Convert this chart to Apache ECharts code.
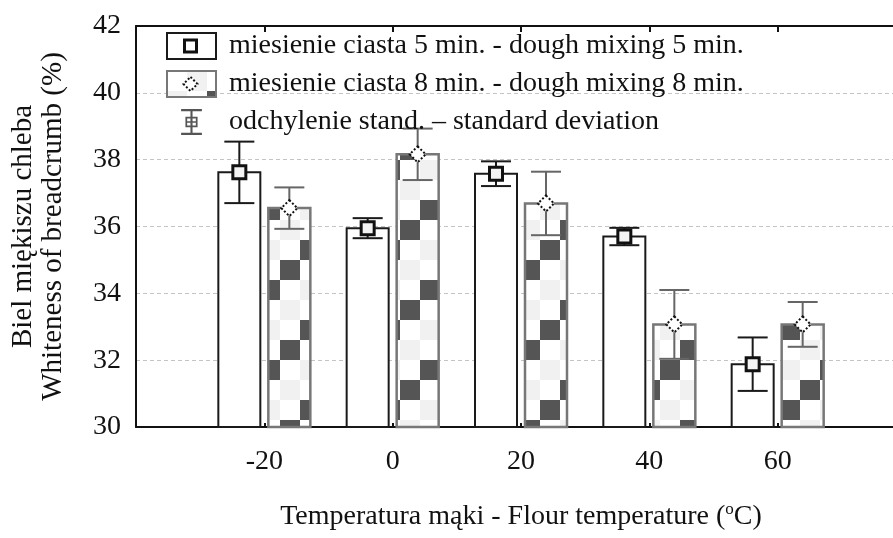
<!DOCTYPE html>
<html>
<head>
<meta charset="utf-8">
<script src="https://cdn.jsdelivr.net/npm/echarts@6/dist/echarts.min.js"></script>
<style>
  html, body { margin: 0; padding: 0; background: #fff; }
  #chart { width: 893px; height: 538px; }
</style>
</head>
<body>
<div id="chart"></div>
<script>
// temperatury maki i wyniki
const temps = [-20, 0, 20, 40, 60];
const mix5 = [37.62, 35.95, 37.58, 35.7, 31.88];
const sd5 = [0.92, 0.3, 0.37, 0.26, 0.8];
const mix8 = [36.55, 38.16, 36.69, 33.07, 33.07];
const sd8 = [0.62, 0.77, 0.95, 1.03, 0.67];

const name5 = 'miesienie ciasta 5 min. - dough mixing 5 min.';
const name8 = 'miesienie ciasta 8 min. - dough mixing 8 min.';
const nameSd = 'odchylenie stand. – standard deviation';

const font = "'Liberation Serif', 'Times New Roman', serif";
const BAR_W = 42;
const OFFSET = 25;

// szachownica dla 8 min
function makePattern() {
  const c = document.createElement('canvas');
  c.width = 80; c.height = 80;
  const ctx = c.getContext('2d');
  ctx.fillStyle = '#fff';
  ctx.fillRect(0, 0, 80, 80);
  for (let r = 0; r < 4; r++) {
    for (let k = 0; k < 4; k++) {
      const d = (r + k) % 4;
      if (d === 3) ctx.fillStyle = '#555';
      else if (d === 1) ctx.fillStyle = '#f1f1f1';
      else continue;
      ctx.fillRect(k * 20, r * 20, 20, 20);
    }
  }
  return c;
}
const pattern = { image: makePattern(), repeat: 'repeat' };

const rows = temps.map((t, i) => [t, mix5[i], sd5[i], mix8[i], sd8[i]]);

function barRenderer(col, offset, stroke, lw, fill) {
  return function (params, api) {
    const x = api.value(0);
    const base = api.coord([x, 30]);
    const top = api.coord([x, api.value(col)]);
    const cx = base[0] + offset;
    return {
      type: 'rect',
      shape: { x: cx - BAR_W / 2, y: top[1], width: BAR_W, height: base[1] - top[1] },
      style: { fill: fill, stroke: stroke, lineWidth: lw }
    };
  };
}

function errRenderer(params, api) {
  const x = api.value(0);
  const children = [];
  const groups = [
    { m: 1, s: 2, off: -OFFSET, color: '#1a1a1a', kind: 'square' },
    { m: 3, s: 4, off: OFFSET, color: '#666', kind: 'diamond' }
  ];
  groups.forEach(g => {
    const mean = api.value(g.m), sd = api.value(g.s);
    const p = api.coord([x, mean]);
    const hi = api.coord([x, mean + sd]);
    const lo = api.coord([x, mean - sd]);
    const cx = p[0] + g.off;
    const ls = { stroke: g.color, lineWidth: 2 };
    children.push({ type: 'line', shape: { x1: cx, y1: hi[1], x2: cx, y2: lo[1] }, style: ls });
    children.push({ type: 'line', shape: { x1: cx - 15, y1: hi[1], x2: cx + 15, y2: hi[1] }, style: ls });
    children.push({ type: 'line', shape: { x1: cx - 15, y1: lo[1], x2: cx + 15, y2: lo[1] }, style: ls });
    if (g.kind === 'square') {
      children.push({
        type: 'rect', shape: { x: cx - 6.5, y: p[1] - 6.5, width: 13, height: 13 },
        style: { fill: '#f3f3f3', stroke: '#111', lineWidth: 3 }
      });
    } else {
      children.push({
        type: 'polygon', shape: { points: [[cx, p[1] - 8], [cx + 8, p[1]], [cx, p[1] + 8], [cx - 8, p[1]]] },
        style: { fill: '#fff', stroke: '#111', lineWidth: 2, lineDash: [2, 2] }
      });
    }
  });
  return { type: 'group', children: children };
}

const chart = echarts.init(document.getElementById('chart'));

const sdIcon = 'path://M3,0h24v2.5h-24Z M3,27.5h24v2.5h-24Z M13.8,0h2.4v30h-2.4Z M8,9h14v12h-14Z M10,11v8h10v-8Z M8,14h14v2h-14Z';

const LEG_TOP = 32;
const LEG_H = 26;
const LEG_GAP = 10;
const ROW_H = 28;

const option = {
  animation: false,
  backgroundColor: '#fff',
  textStyle: { fontFamily: font },
  grid: { left: 136, right: -13, top: 26, bottom: 111, outerBoundsMode: 'none', containLabel: false },
  legend: {
    orient: 'vertical',
    left: 166,
    top: LEG_TOP,
    padding: 0,
    itemWidth: 49,
    itemHeight: LEG_H,
    itemGap: LEG_GAP,
    textStyle: { fontFamily: font, fontSize: 28, color: '#111', padding: [0, 0, 0, 8] },
    data: [
      { name: name5, icon: 'rect', itemStyle: { color: '#fff', borderColor: '#1a1a1a', borderWidth: 2 } },
      { name: name8, icon: 'rect', itemStyle: { color: pattern, borderColor: '#777', borderWidth: 2 } },
      { name: nameSd, icon: sdIcon, itemStyle: { color: '#555', borderWidth: 0 } }
    ]
  },
  xAxis: [
    {
      type: 'value', min: -40, max: 80, interval: 20,
      name: 'Temperatura mąki - Flour temperature ({sup|o}C)',
      nameLocation: 'middle', nameGap: 74,
      nameTextStyle: {
        fontFamily: font, fontSize: 28, color: '#111',
        rich: { sup: { fontFamily: font, fontSize: 17, color: '#111', padding: [0, 0, 15, 0] } }
      },
      axisLine: { onZero: false, lineStyle: { color: '#111', width: 2 } },
      axisTick: { inside: true, length: 4, lineStyle: { color: '#111', width: 2 } },
      axisLabel: {
        fontFamily: font, fontSize: 28, color: '#111', margin: 21,
        formatter: v => (temps.indexOf(v) >= 0 ? String(v) : '')
      },
      splitLine: { show: false }
    },
    {
      type: 'value', min: -40, max: 80, interval: 20, position: 'top',
      axisLine: { onZero: false, lineStyle: { color: '#111', width: 2 } },
      axisTick: { inside: true, length: 6, lineStyle: { color: '#111', width: 2 } },
      axisLabel: { show: false },
      splitLine: { show: false }
    }
  ],
  yAxis: {
    type: 'value', min: 30, max: 42, interval: 2,
    name: 'Biel miękiszu chleba\nWhiteness of breadcrumb (%)',
    nameLocation: 'middle', nameGap: 68, nameRotate: 90,
    nameTextStyle: { fontFamily: font, fontSize: 29, color: '#111', lineHeight: 30 },
    axisLine: { show: true, onZero: false, lineStyle: { color: '#111', width: 2 } },
    axisTick: { show: false },
    axisLabel: { fontFamily: font, fontSize: 28, color: '#111', margin: 15 },
    splitLine: { lineStyle: { color: '#c4c4c4', type: [4, 3], width: 1 } }
  },
  series: [
    {
      name: name5, type: 'custom', data: rows, z: 2,
      renderItem: barRenderer(1, -OFFSET, '#1a1a1a', 2, '#fff')
    },
    {
      name: name8, type: 'custom', data: rows, z: 2,
      renderItem: barRenderer(3, OFFSET, '#777', 2.5, pattern)
    },
    {
      name: nameSd, type: 'custom', data: rows, z: 3,
      renderItem: errRenderer
    }
  ]
};

chart.setOption(option);

// znaczniki w ikonach legendy
const y0 = LEG_TOP + ROW_H / 2;
const y1 = y0 + ROW_H + LEG_GAP;
chart.setOption({
  graphic: [
    { type: 'rect', shape: { x: 184.5, y: y0 - 6, width: 12, height: 12 }, style: { fill: '#fff', stroke: '#111', lineWidth: 3 }, z: 100 },
    { type: 'polygon', shape: { points: [[190.5, y1 - 7], [197.5, y1], [190.5, y1 + 7], [183.5, y1]] }, style: { fill: '#fff', stroke: '#111', lineWidth: 2, lineDash: [2, 2] }, z: 100 }
  ]
});
</script>
</body>
</html>
